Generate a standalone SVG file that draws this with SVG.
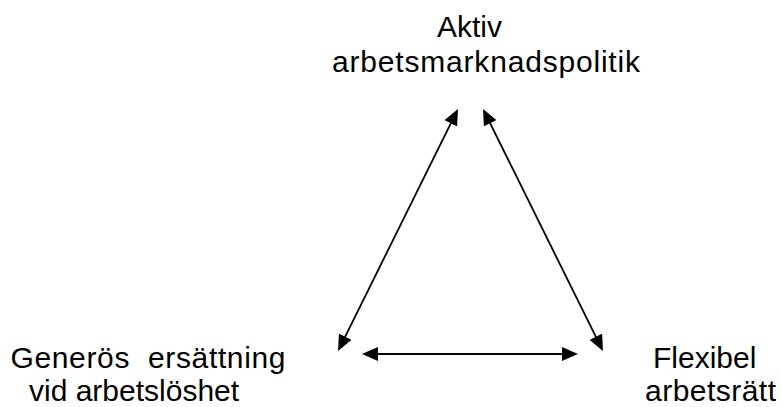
<svg xmlns="http://www.w3.org/2000/svg" width="781" height="407" viewBox="0 0 781 407">
  <style>
    text { font-family: "Liberation Sans", Arial, sans-serif; font-size: 30px; fill: #000; }
    .conn { stroke: #000; stroke-width: 1.8; fill: none; marker-start: url(#ah); marker-end: url(#ah); }
  </style>
  <defs>
    <marker id="ah" viewBox="0 0 16 14" refX="8" refY="7" markerWidth="16" markerHeight="14" markerUnits="userSpaceOnUse" orient="auto-start-reverse">
      <path d="M0,0 L16,7 L0,14 z" fill="#000"/>
    </marker>
  </defs>
  <rect width="781" height="407" fill="#fff"/>
  <g id="node-aktiv">
    <text x="437" y="37">Aktiv</text>
    <text x="332" y="72" textLength="308" lengthAdjust="spacing">arbetsmarknadspolitik</text>
  </g>
  <g id="node-generos">
    <text x="10.5" y="368" xml:space="preserve" textLength="275" lengthAdjust="spacing">Generös  ersättning</text>
    <text x="29" y="401">vid arbetslöshet</text>
  </g>
  <g id="node-flexibel">
    <text x="653" y="368">Flexibel</text>
    <text x="645" y="401" textLength="131" lengthAdjust="spacing">arbetsrätt</text>
  </g>
  <g id="connectors">
    <line class="conn" x1="341.6" y1="343.85" x2="454.4" y2="116.15"/>
    <line class="conn" x1="486.6" y1="116.1" x2="599.4" y2="343.9"/>
    <line class="conn" x1="370" y1="354" x2="570" y2="354"/>
  </g>
</svg>
